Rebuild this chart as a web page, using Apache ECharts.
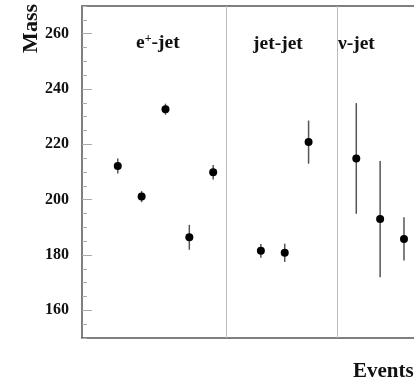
<!DOCTYPE html>
<html>
<head>
<meta charset="utf-8">
<script src="https://cdn.jsdelivr.net/npm/echarts@6/dist/echarts.min.js"></script>
<style>html,body{margin:0;padding:0;background:#fff}#c{width:414px;height:382px}</style>
</head>
<body>
<div id="c"></div>
<script>
// Data
var eventPos = [1, 2, 3, 4, 5, 7, 8, 9, 11, 12, 13];
var massValues = [212.2, 201.1, 232.7, 186.4, 209.9, 181.5, 180.8, 220.8, 214.9, 193.0, 185.8];
var massErrors = [2.7, 2.0, 2.0, 4.5, 2.6, 2.5, 3.3, 7.8, 20.0, 21.0, 7.8];
var separators = [5.53, 10.19];
var groupLabels = ['e+-jet', 'jet-jet', 'ν-jet'];
var yTicks = [160, 180, 200, 220, 240, 260];

var chart = echarts.init(document.getElementById('c'), null, {renderer: 'canvas'});
var pts = eventPos.map(function (x, i) { return [x, massValues[i], massErrors[i]]; });
var font = 'Liberation Serif';

chart.setOption({
  animation: false,
  grid: {left: 82, top: 6, right: 0, bottom: 44},
  xAxis: [{
    type: 'value', min: -0.5, max: 13.42, position: 'bottom',
    axisLine: {show: true, onZero: false, lineStyle: {color: '#555', width: 1.5}},
    axisTick: {show: false}, axisLabel: {show: false}, splitLine: {show: false}
  }, {
    type: 'value', min: -0.5, max: 13.42, position: 'top',
    axisLine: {show: true, onZero: false, lineStyle: {color: '#555', width: 1.5}},
    axisTick: {show: false}, axisLabel: {show: false}, splitLine: {show: false}
  }],
  yAxis: [{
    type: 'value', min: 150, max: 270, interval: 10,
    axisLine: {show: true, onZero: false, lineStyle: {color: '#555', width: 1.5}},
    axisTick: {show: true, inside: true, length: 10, customValues: yTicks, lineStyle: {color: '#aaa'}},
    splitLine: {show: false},
    axisLabel: {
      margin: 13, color: '#111', fontFamily: font, fontWeight: 'bold', fontSize: 16,
      customValues: yTicks
    }
  }, {
    type: 'value', min: 150, max: 270, interval: 5, position: 'left', offset: 0,
    axisLine: {show: false, onZero: false},
    axisTick: {show: true, inside: true, length: 5, lineStyle: {color: '#aaa'}},
    axisLabel: {show: false}, splitLine: {show: false}
  }],
  series: [{
    type: 'custom',
    data: pts,
    z: 2,
    renderItem: function (params, api) {
      var x = api.value(0), y = api.value(1), e = api.value(2);
      var p1 = api.coord([x, y + e]);
      var p2 = api.coord([x, y - e]);
      return {type: 'line', shape: {x1: p1[0], y1: p1[1], x2: p2[0], y2: p2[1]},
        style: {stroke: '#555', lineWidth: 1.5}};
    }
  }, {
    type: 'scatter',
    data: pts.map(function (p) { return [p[0], p[1]]; }),
    symbol: 'circle', symbolSize: 8,
    itemStyle: {color: '#000', opacity: 1},
    z: 3,
    markLine: {
      silent: true, symbol: 'none', label: {show: false},
      lineStyle: {color: '#bbb', width: 1, type: 'solid'},
      data: separators.map(function (s) { return {xAxis: s}; })
    }
  }],
  graphic: [
    {type: 'text', left: 20, top: 4,
      style: {text: 'Mass', font: 'bold 22px "Liberation Serif"', fill: '#111'},
      rotation: Math.PI / 2},
    {type: 'text', x: 136, y: 33,
      style: {text: 'e{sup|+}-jet', font: 'bold 19.5px "Liberation Serif"', fill: '#111',
        rich: {sup: {font: 'bold 12px "Liberation Serif"', verticalAlign: 'top', padding: [0, 0, 8, 0]}}}},
    {type: 'text', x: 253, y: 34,
      style: {text: groupLabels[1], font: 'bold 19.5px "Liberation Serif"', fill: '#111'}},
    {type: 'text', x: 338, y: 34,
      style: {text: groupLabels[2], font: 'bold 19.5px "Liberation Serif"', fill: '#111'}},
    {type: 'text', x: 353, y: 361,
      style: {text: 'Events', font: 'bold 21px "Liberation Serif"', fill: '#111'}}
  ]
});
</script>
</body>
</html>
